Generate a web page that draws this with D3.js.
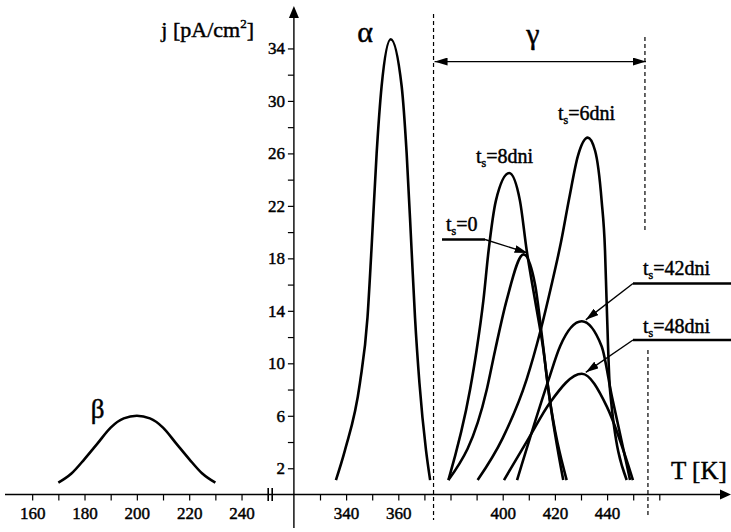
<!DOCTYPE html>
<html>
<head>
<meta charset="utf-8">
<script src="https://cdn.jsdelivr.net/npm/d3@7"></script>
<style>
  body { margin: 0; background: #fff; }
  figure { margin: 0; }
  svg { display: block; font-family: "Liberation Serif", "DejaVu Serif", serif; }
  text { stroke: #000; stroke-width: 0.45px; fill: #000; }
</style>
</head>
<body>
<figure></figure>
<script>
// tick values
const leftLabels  = [160, 180, 200, 220, 240]
const leftTicks   = [160, 170, 180, 190, 200, 210, 220, 230, 240]
const rightLabels = [340, 360, 400, 420, 440]
const rightTicks  = [330, 340, 350, 360, 370, 380, 390, 400, 410, 420, 430, 440, 450, 460]
const yLabels     = [2, 6, 10, 14, 18, 22, 26, 30, 34]
const yTicks      = [2, 4, 6, 8, 10, 12, 14, 16, 18, 20, 22, 24, 26, 28, 30, 32, 34]

// gamma region bounds [K]
const gammaRange = [373.5, 454.5]

// beta peak
const betaT = [170, 175, 180, 185, 190, 195, 200, 205, 210, 215, 220, 225, 230]
const betaJ = [0.9, 1.6, 2.7, 3.9, 5.1, 5.8, 6.0, 5.8, 5.1, 3.9, 2.7, 1.6, 0.9]

// alpha peak
const alphaT = [336.1, 339.6, 345.3, 348.2, 349.7, 351.7, 353.6, 357.1, 361.3, 363.2, 365.1, 366.4, 368.1, 370.6, 372.2]
const alphaJ = [1.1, 3.4, 8.5, 13.5, 18.6, 26.0, 31.1, 34.7, 31.1, 26.0, 18.6, 13.5, 8.5, 3.4, 1.1]

// gamma peaks, t_s = storage time
const g8T  = [379.2, 387.5, 390.0, 392.6, 394.6, 397.4, 402.5, 406.6, 409.2, 412.4, 415.6, 417.5, 424.5]
const g8J  = [1.1, 8.0, 11.0, 14.8, 18.6, 22.4, 24.5, 22.4, 18.6, 14.8, 11.0, 8.0, 1.1]
const g0T  = [379.2, 393.9, 397.1, 401.5, 408.0, 412.4, 414.9, 417.5, 423.2]
const g0J  = [1.1, 8.0, 11.0, 14.8, 18.3, 16.0, 12.3, 8.0, 1.1]
const g6T  = [390.4, 400.0, 409.2, 414.5, 418.5, 422.3, 425.5, 428.8, 432.6, 435.4, 437.9, 439.2, 439.8, 441.1, 447.5]
const g6J  = [1.1, 4.3, 8.8, 12.5, 15.8, 19.2, 22.6, 25.8, 27.2, 26.2, 22.4, 18.6, 14.8, 8.0, 1.1]
const g42T = [405.5, 417.5, 422.0, 430.3, 437.9, 441.8, 448.8]
const g42J = [1.1, 8.7, 11.3, 13.2, 11.3, 7.5, 1.1]
const g48T = [400.5, 410.0, 418.1, 430.3, 439.9, 449.9]
const g48J = [1.1, 4.3, 7.0, 9.2, 6.7, 1.1]

const figure = document.querySelector('figure')

const W = 731, H = 532,
      svG = d3.select(figure)
          .append('svg')
              .attr('width', W)
              .attr('height', H),
      // broken x axis: two linear pieces
      xL = d3.scaleLinear().domain([150, 250]).range([6, 267.7]),
      xR = d3.scaleLinear().domain([320, 460]).range([293.9, 659.3]),
      y  = d3.scaleLinear().domain([0, 36]).range([494.5, 22.2]),
      x0 = xR(320),
      y0 = y(0)

const zip = (ts, js) => ts.map((t, i) => ({t: t, j: js[i]}))

const lineL = d3.line().curve(d3.curveMonotoneX).x(d => xL(d.t)).y(d => y(d.j)),
      lineR = d3.line().curve(d3.curveMonotoneX).x(d => xR(d.t)).y(d => y(d.j))

// arrow markers
const defs = svG.append('defs')
defs.append('marker')
    .attr('id', 'head')
    .attr('viewBox', '0 0 10 10')
    .attr('refX', 10).attr('refY', 5)
    .attr('markerUnits', 'userSpaceOnUse')
    .attr('markerWidth', 13).attr('markerHeight', 8)
    .attr('preserveAspectRatio', 'none')
    .attr('orient', 'auto-start-reverse')
  .append('path')
    .attr('d', 'M0,0L10,5L0,10z')
    .attr('fill', '#000')

// x axis line + arrow
svG.append('line')
    .attr('x1', 5).attr('x2', 722)
    .attr('y1', y0).attr('y2', y0)
    .attr('stroke', '#000').attr('stroke-width', 1.4)
svG.append('path')
    .attr('d', `M731,${y0}L720,${y0 - 5}L720,${y0 + 5}z`)
    .attr('fill', '#000')

// axis break marks
;[xL(250) + 0.5, xL(250) + 4.5].forEach(bx => {
  svG.append('line')
      .attr('x1', bx).attr('x2', bx)
      .attr('y1', y0 - 6.5).attr('y2', y0 + 6.5)
      .attr('stroke', '#000').attr('stroke-width', 1.6)
})

function styleAxis(g) {
  g.select('.domain').remove()
  g.selectAll('.tick line').attr('stroke', '#000').attr('stroke-width', 1.2)
  g.selectAll('.tick text')
      .attr('fill', '#000')
      .style('font-family', '"Liberation Serif", serif')
      .style('font-size', '17px')
}

svG.append('g')
    .attr('transform', `translate(0,${y0})`)
    .call(d3.axisBottom(xL).tickValues(leftTicks).tickSize(6).tickPadding(6)
      .tickFormat(d => leftLabels.includes(d) ? d : ''))
    .call(styleAxis)

svG.append('g')
    .attr('transform', `translate(0,${y0})`)
    .call(d3.axisBottom(xR).tickValues(rightTicks).tickSize(6).tickPadding(6)
      .tickFormat(d => rightLabels.includes(d) ? d : ''))
    .call(styleAxis)

// y axis line + arrow
svG.append('line')
    .attr('x1', x0).attr('x2', x0)
    .attr('y1', 528).attr('y2', 17)
    .attr('stroke', '#000').attr('stroke-width', 1.4)
svG.append('path')
    .attr('d', `M${x0},6L${x0 - 5},18L${x0 + 5},18z`)
    .attr('fill', '#000')

svG.append('g')
    .attr('transform', `translate(${x0},0)`)
    .call(d3.axisLeft(y).tickValues(yTicks).tickSize(6).tickPadding(3)
      .tickFormat(d => yLabels.includes(d) ? d : ''))
    .call(styleAxis)

// gamma region: dashed bounds and double arrow
const dash = (xx, ya, yb) => svG.append('line')
    .attr('x1', xx).attr('x2', xx)
    .attr('y1', ya).attr('y2', yb)
    .attr('stroke', '#000').attr('stroke-width', 1.2)
    .attr('stroke-dasharray', '4,3')

dash(xR(gammaRange[0]), 14, 520)
dash(xR(gammaRange[1]), 37, 231)
dash(xR(gammaRange[1]) + 3, 350, 518)

svG.append('line')
    .attr('x1', xR(gammaRange[0]) + 1).attr('x2', xR(gammaRange[1]) + 1)
    .attr('y1', y(33)).attr('y2', y(33))
    .attr('stroke', '#000').attr('stroke-width', 1.3)
    .attr('marker-start', 'url(#head)')
    .attr('marker-end', 'url(#head)')

// peaks
const series = [
  {line: lineL, data: zip(betaT, betaJ)},
  {line: lineR, data: zip(alphaT, alphaJ)},
  {line: lineR, data: zip(g8T, g8J)},
  {line: lineR, data: zip(g0T, g0J)},
  {line: lineR, data: zip(g6T, g6J)},
  {line: lineR, data: zip(g42T, g42J)},
  {line: lineR, data: zip(g48T, g48J)}
]

svG.append('g')
  .selectAll('path')
  .data(series)
  .join('path')
    .attr('d', s => s.line(s.data))
    .attr('fill', 'none')
    .attr('stroke', '#000')
    .attr('stroke-width', 2.6)
    .attr('stroke-linejoin', 'round')

// text labels
function label(x, yy, txt, size, anchor) {
  return svG.append('text')
      .attr('x', x).attr('y', yy)
      .attr('font-size', size)
      .attr('text-anchor', anchor || 'start')
      .text(txt)
}

label(97.5, 418, 'β', 27, 'middle')
label(365, 42, 'α', 30, 'middle')
label(533, 44, 'γ', 30, 'middle')
label(671, 479, 'T [K]', 25)

const jt = svG.append('text')
    .attr('x', 254).attr('y', 37)
    .attr('font-size', 22)
    .attr('text-anchor', 'end')
jt.append('tspan').text('j [pA/cm')
jt.append('tspan').attr('font-size', 13).attr('dy', -9).text('2')
jt.append('tspan').attr('dy', 9).text(']')

function tsLabel(x, yy, rest) {
  const t = svG.append('text')
      .attr('x', x).attr('y', yy)
      .attr('font-size', 20)
  t.append('tspan').text('t')
  t.append('tspan').attr('font-size', 12).attr('dy', 4).text('s')
  t.append('tspan').attr('dy', -4).text(rest)
}

tsLabel(476, 163, '=8dni')
tsLabel(558, 120, '=6dni')
tsLabel(446, 231, '=0')
tsLabel(643, 275, '=42dni')
tsLabel(643, 333, '=48dni')

// leaders from labels to peaks
function leader(xa, xb, yy, peakT, peakJ) {
  svG.append('line')
      .attr('x1', xa).attr('x2', xb)
      .attr('y1', yy).attr('y2', yy)
      .attr('stroke', '#000').attr('stroke-width', 2.6)
  svG.append('line')
      .attr('x1', xb).attr('y1', yy)
      .attr('x2', xR(peakT) + 4).attr('y2', y(peakJ) - 1.5)
      .attr('stroke', '#000').attr('stroke-width', 1.4)
      .attr('marker-end', 'url(#head)')
}

leader(442, 485, 239.5, g0T[g0J.indexOf(d3.max(g0J))], d3.max(g0J))
leader(731, 633, 283.5, g42T[g42J.indexOf(d3.max(g42J))], d3.max(g42J))
leader(731, 633, 340, g48T[g48J.indexOf(d3.max(g48J))], d3.max(g48J))
</script>
</body>
</html>
